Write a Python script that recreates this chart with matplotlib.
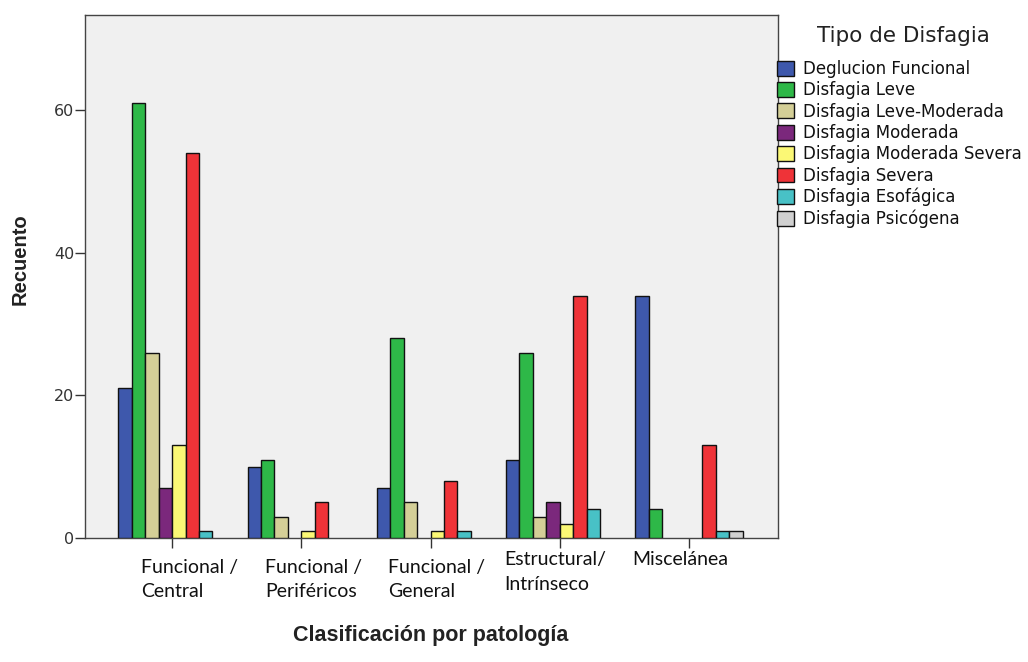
import matplotlib
matplotlib.use("Agg")
import matplotlib.pyplot as plt
import numpy as np

plt.rcParams["font.family"] = ["DejaVu Sans"]

categories = ["Funcional /\nCentral", "Funcional /\nPeriféricos", "Funcional /\nGeneral",
              "Estructural/\nIntrínseco", "Miscelánea"]
series_names = ["Deglucion Funcional", "Disfagia Leve", "Disfagia Leve-Moderada",
                "Disfagia Moderada", "Disfagia Moderada Severa", "Disfagia Severa",
                "Disfagia Esofágica", "Disfagia Psicógena"]
values = {
    "Deglucion Funcional":      [21, 10, 7, 11, 34],
    "Disfagia Leve":            [61, 11, 28, 26, 4],
    "Disfagia Leve-Moderada":   [26, 3, 5, 3, 0],
    "Disfagia Moderada":        [7, 0, 0, 5, 0],
    "Disfagia Moderada Severa": [13, 1, 1, 2, 0],
    "Disfagia Severa":          [54, 5, 8, 34, 13],
    "Disfagia Esofágica":       [1, 0, 1, 4, 1],
    "Disfagia Psicógena":       [0, 0, 0, 0, 1],
}
yticks = [0, 20, 40, 60]

colors = ["#3E58AC", "#2EB848", "#D4CF97", "#7B287C", "#FBF875", "#EF3338", "#48C1C6", "#D0D0D0"]

W, H = 1028, 662
fig = plt.figure(figsize=(W / 100, H / 100), dpi=100)
ax = fig.add_axes([85 / W, 1 - 538 / H, (778 - 85) / W, (538 - 15) / H])
ax.set_facecolor("#F0F0F0")

x = np.arange(len(categories))
bw = 0.104
n = len(series_names)
for i, name in enumerate(series_names):
    offs = (i - (n - 1) / 2) * bw
    vals = np.array(values[name], dtype=float)
    mask = vals > 0
    ax.bar(x[mask] + offs, vals[mask], width=bw, color=colors[i], edgecolor="#111111",
           linewidth=1.0, label=name, zorder=3)

ax.set_xlim(-0.675, len(categories) - 1 + 0.69)
ax.set_ylim(0, 73.4)
ax.set_yticks(yticks)
ax.set_yticklabels([str(v) for v in yticks], fontsize=11.5, color="#333333")
ax.set_xticks(x)
ax.set_xticklabels([])
ax.tick_params(axis="both", direction="out", length=7, width=1, color="#333333")
ax.tick_params(axis="y", pad=0.5)
for s in ax.spines.values():
    s.set_color("#444444")
    s.set_linewidth(1.0)

# category labels, left-aligned under each tick
label_offsets = [-0.24, -0.28, -0.33, -0.43, -0.44]
label_tops = [-2.9, -2.9, -2.9, -1.8, -1.8]
for xi, lab, off, top in zip(x, categories, label_offsets, label_tops):
    ax.text(xi + off, top, lab, ha="left", va="top", fontsize=14,
            family="Lato", linespacing=1.55, clip_on=False, color="#111111")

fig.text(431 / W, 1 - 636 / H, "Clasificación por patología", ha="center", va="center",
         fontsize=15.5, fontweight="bold", family="Liberation Sans", color="#222222")
fig.text(20 / W, 1 - 259 / H, "Recuento", ha="center", va="center", rotation=90,
         fontsize=14.5, fontweight="bold", family="Liberation Sans", color="#222222")

fig.text(903 / W, 1 - 36 / H, "Tipo de Disfagia", ha="center", va="center",
         fontsize=15.5, color="#222222")
leg = fig.legend(loc="upper left", bbox_to_anchor=(777 / W, 1 - 60 / H), frameon=False,
                 fontsize=12,
                 handlelength=1.0, handleheight=1.0, handletextpad=0.55,
                 labelspacing=0.2, borderpad=0, borderaxespad=0)
for t in leg.get_texts():
    t.set_color("#111111")

fig.savefig("out.png", dpi=100)
